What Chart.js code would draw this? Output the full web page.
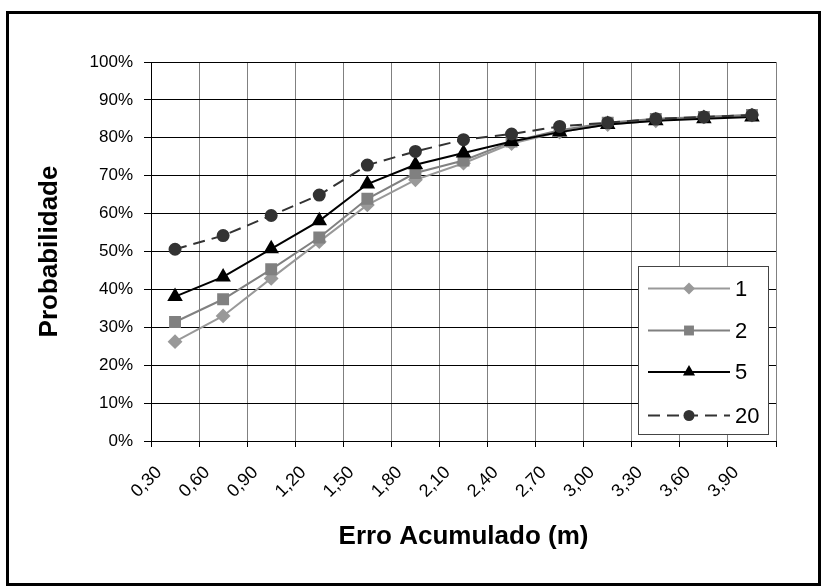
<!DOCTYPE html>
<html>
<head>
<meta charset="utf-8">
<script src="https://cdn.jsdelivr.net/npm/chart.js@4.4.0/dist/chart.umd.min.js"></script>
<style>
html, body { margin: 0; padding: 0; background: #fff; }
</style>
</head>
<body>
<canvas id="myChart" width="831" height="587"></canvas>
<script>
// categorias do eixo x
var labels = ['0,30', '0,60', '0,90', '1,20', '1,50', '1,80', '2,10', '2,40', '2,70', '3,00', '3,30', '3,60', '3,90'];
// probabilidade (%) por serie
var serie1 = [26.2, 33.0, 42.9, 52.6, 62.3, 68.9, 73.3, 78.5, 81.5, 83.5, 84.5, 85.5, 86.0];
var serie2 = [31.4, 37.4, 45.3, 53.7, 63.9, 70.7, 74.0, 79.0, 82.0, 84.0, 85.0, 85.5, 86.0];
var serie5 = [38.1, 43.3, 50.7, 58.1, 67.8, 72.9, 76.0, 79.0, 81.5, 83.5, 84.5, 85.0, 85.5];
var serie20 = [50.6, 54.2, 59.5, 64.9, 72.8, 76.4, 79.5, 81.0, 83.0, 84.0, 85.0, 85.5, 86.0];
var nomes = ['1', '2', '5', '20'];
var yMin = 0, yMax = 100, yStep = 10;

var fonte = '"Liberation Sans", Arial, sans-serif';

function marcador(ctx, estilo, r, x, y, cor) {
	ctx.save();
	ctx.fillStyle = cor;
	ctx.beginPath();
	if (estilo == 'rectRot') {
		ctx.moveTo(x, y - r); ctx.lineTo(x + r, y); ctx.lineTo(x, y + r); ctx.lineTo(x - r, y);
	} else if (estilo == 'rect') {
		var s = r * Math.SQRT1_2;
		ctx.rect(x - s, y - s, 2 * s, 2 * s);
	} else if (estilo == 'triangle') {
		var e = 3 * r / Math.sqrt(3), h = e * Math.sqrt(3) / 2;
		ctx.moveTo(x - e / 2, y + h / 3); ctx.lineTo(x + e / 2, y + h / 3); ctx.lineTo(x, y - 2 * h / 3);
	} else {
		ctx.arc(x, y, r, 0, Math.PI * 2);
	}
	ctx.closePath();
	ctx.fill();
	ctx.restore();
}

var moldura = {
	id: 'moldura',
	beforeDraw: function(chart) {
		var ctx = chart.ctx;
		ctx.save();
		ctx.fillStyle = '#fff';
		ctx.fillRect(0, 0, chart.width, chart.height);
		ctx.restore();
	},
	afterDraw: function(chart) {
		var ctx = chart.ctx;
		ctx.save();
		ctx.strokeStyle = '#000';
		ctx.lineWidth = 3;
		ctx.strokeRect(7.5, 12.5, 812, 572);

		// legenda
		var bx = 638.5, by = 266.5, bw = 130, bh = 168;
		ctx.fillStyle = '#fff';
		ctx.fillRect(bx, by, bw, bh);
		ctx.lineWidth = 1;
		ctx.strokeStyle = '#444';
		ctx.strokeRect(bx, by, bw, bh);
		var ys = [288.5, 330.5, 372, 415.5];
		chart.data.datasets.forEach(function(ds, i) {
			var y = ys[i];
			ctx.save();
			ctx.strokeStyle = ds.borderColor;
			ctx.lineWidth = ds.borderWidth;
			ctx.setLineDash(ds.borderDash || []);
			ctx.beginPath();
			ctx.moveTo(648, y);
			ctx.lineTo(730, y);
			ctx.stroke();
			ctx.restore();
			marcador(ctx, ds.pointStyle, ds.pointRadius, 689, y, ds.pointBackgroundColor);
			ctx.fillStyle = '#000';
			ctx.font = '22px ' + fonte;
			ctx.textBaseline = 'middle';
			ctx.textAlign = 'left';
			ctx.fillText(ds.label, 735, y + 1);
		});
		ctx.restore();
	}
};

var ctx = document.getElementById('myChart').getContext('2d');
var myChart = new Chart(ctx, {
	type: 'line',
	data: {
		labels: labels,
		datasets: [{
			label: nomes[0],
			data: serie1,
			borderColor: '#999999',
			pointBackgroundColor: '#999999',
			pointBorderColor: '#999999',
			pointStyle: 'rectRot',
			pointRadius: 6,
			borderWidth: 2,
			order: 3
		}, {
			label: nomes[1],
			data: serie2,
			borderColor: '#808080',
			pointBackgroundColor: '#808080',
			pointBorderColor: '#808080',
			pointStyle: 'rect',
			pointRadius: 7,
			borderWidth: 2,
			order: 2
		}, {
			label: nomes[2],
			data: serie5,
			borderColor: '#000000',
			pointBackgroundColor: '#000000',
			pointBorderColor: '#000000',
			pointStyle: 'triangle',
			pointRadius: 7,
			borderWidth: 2,
			order: 1
		}, {
			label: nomes[3],
			data: serie20,
			borderColor: '#333333',
			pointBackgroundColor: '#333333',
			pointBorderColor: '#333333',
			pointStyle: 'circle',
			pointRadius: 5.5,
			borderWidth: 2,
			borderDash: [12, 7],
			order: 0
		}]
	},
	options: {
		responsive: false,
		animation: false,
		layout: { padding: { left: 30, top: 62, right: 55, bottom: 35 } },
		plugins: {
			legend: { display: false },
			tooltip: { enabled: false }
		},
		elements: { line: { tension: 0 }, point: { borderWidth: 1 } },
		scales: {
			x: {
				offset: true,
				grid: { offset: true, color: '#808080', lineWidth: 1, tickLength: 6, tickColor: '#000' },
				border: { color: '#000', width: 1 },
				ticks: {
					autoSkip: false, minRotation: 45, maxRotation: 45, padding: 15, labelOffset: -16,
					color: '#000', font: { family: fonte, size: 18 }
				},
				title: {
					display: true, text: 'Erro Acumulado (m)', color: '#000',
					font: { family: fonte, size: 26, weight: 'bold' }, padding: { top: 0, bottom: 0 }
				},
				afterFit: function(scale) { scale.height = 111; }
			},
			y: {
				min: yMin, max: yMax,
				grid: { color: '#000', lineWidth: 1, tickLength: 7, tickColor: '#000' },
				border: { color: '#000', width: 1 },
				ticks: {
					stepSize: yStep, padding: 11, color: '#000',
					font: { family: fonte, size: 17 },
					callback: function(v) { return v + '%'; }
				},
				title: {
					display: true, text: 'Probabilidade', color: '#000',
					font: { family: fonte, size: 26, weight: 'bold' }, padding: { top: 4, bottom: 0 }
				},
				afterFit: function(scale) { scale.width = 121; }
			}
		}
	},
	plugins: [moldura]
});
</script>
</body>
</html>
